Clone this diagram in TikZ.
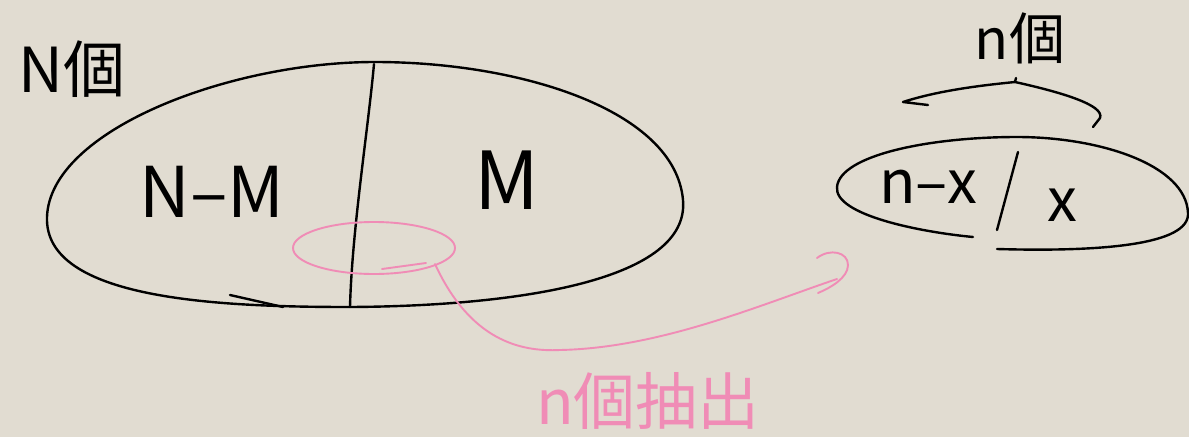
\documentclass[tikz,border=0pt]{standalone}
\usepackage{fontspec}
\newfontfamily\hand{Noto Sans CJK JP}
\definecolor{bg}{RGB}{225,220,209}
\definecolor{pinkink}{RGB}{240,140,182}
\tikzset{
  ink/.style={draw=black, line width=2.4pt, line cap=round, line join=round},
  pinkline/.style={draw=pinkink, line width=1.9pt, line cap=round, line join=round},
  lbl/.style={font=\hand, inner sep=0pt, text=black},
  pinklbl/.style={font=\hand, inner sep=0pt, text=pinkink}
}
\begin{document}
\begin{tikzpicture}[x=1pt,y=-1pt]
\fill[bg] (0,0) rectangle (1189,437);
\useasboundingbox (0,0) rectangle (1189,437);

% big set
\draw[ink] (350,307) .. controls (520,306) and (690,280) .. (683,200)
  .. controls (675,110) and (520,62) .. (375,62)
  .. controls (230,62) and (50,130) .. (47,217)
  .. controls (44,300) and (220,307) .. (350,307);
\draw[ink] (230,295) -- (283,307);
\draw[ink] (374,64) .. controls (368,130) and (352,230) .. (350,307);

\node[lbl, font=\hand\fontsize{62}{62}\selectfont] (Nko) at (72,69) {N個};
\node[lbl, font=\hand\fontsize{70}{70}\selectfont] (NM) at (212,192) {N–M};
\node[lbl, font=\hand\fontsize{80}{80}\selectfont] (M) at (507,180) {M};

% pink selection
\draw[pinkline] (374,248) ellipse [x radius=81, y radius=26];
\draw[pinkline] (382,269) -- (426,263);
\coordinate (s) at (435,264);
\coordinate (t) at (837,279);
\draw[pinkline] (s) .. controls (470,340) and (520,352) .. (560,350)
  .. controls (660,348) and (760,305) .. (t);
\draw[pinkline] (817,258) .. controls (830,248) and (848,252) .. (848,265)
  .. controls (848,278) and (830,288) .. (818,293);
\node[pinklbl, font=\hand\fontsize{62}{62}\selectfont] (pick) at (648,401) {n個抽出};

% small set
\draw[ink] (997,249) .. controls (1100,252) and (1190,245) .. (1188,213)
  .. controls (1186,165) and (1100,137) .. (1017,137)
  .. controls (930,137) and (840,155) .. (837,187)
  .. controls (834,215) and (920,232) .. (973,237);
\draw[ink] (1018,152) -- (997,230);
\node[lbl, font=\hand\fontsize{60}{60}\selectfont, anchor=base] (nx) at (928,203) {n–x};
\node[lbl, font=\hand\fontsize{60}{60}\selectfont, anchor=base] (x) at (1062,221) {x};

% brace
\draw[ink] (928,105) -- (903,102) .. controls (940,90) and (985,85) .. (1015,82)
  .. controls (1060,92) and (1105,105) .. (1100,118) -- (1093,127);
\draw[ink] (1015,82) -- (1016,78);
\node[lbl, font=\hand\fontsize{56}{56}\selectfont] (nko) at (1020,38) {n個};
\end{tikzpicture}
\end{document}
